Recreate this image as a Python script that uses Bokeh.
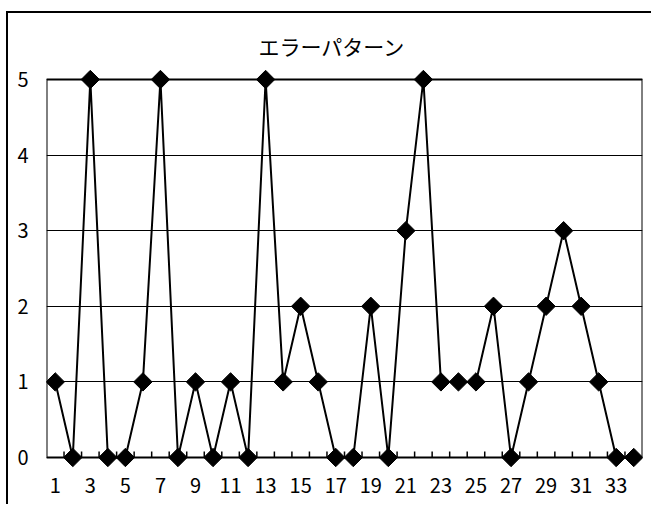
import numpy as np
from bokeh.plotting import figure
from bokeh.models import Range1d, FixedTicker
from bokeh.embed import file_html
from bokeh.resources import INLINE

# ---- data ----
categories = list(range(1, 35))
errors = [1, 0, 5, 0, 0, 1, 5, 0, 1, 0, 1, 0, 5, 1, 2, 1, 0, 0, 2, 0,
          3, 5, 1, 1, 1, 2, 0, 1, 2, 3, 2, 1, 0, 0]
x_tick_labels = [c for c in categories if c % 2 == 1]
y_ticks = [0, 1, 2, 3, 4, 5]
title_text = "エラーパターン"

FONT = "Noto Sans CJK JP"

# layout geometry (pixels)
plot_h_px = 378.0                      # height of value range 0..5
px_per_unit = plot_h_px / (y_ticks[-1] - y_ticks[0])
pad = 10.0 / px_per_unit               # room so markers on 0 / 5 are not clipped

p = figure(width=645, height=493, output_backend="svg", toolbar_location=None,
           x_range=Range1d(categories[0] - 0.5, categories[-1] + 0.5),
           y_range=Range1d(y_ticks[0] - pad, y_ticks[-1] + pad),
           min_border_left=38, min_border_right=11,
           min_border_top=56, min_border_bottom=39)
p.styles = {"border-left": "2px solid #000", "border-top": "2px solid #000",
            "margin-left": "6px", "margin-top": "11px"}
p.outline_line_color = None
p.background_fill_color = "white"
p.border_fill_color = "white"

# title
p.title.text = title_text
p.title.align = "left"
p.title.offset = 212
p.title.standoff = 18
p.title.text_font = FONT
p.title.text_font_size = "21px"
p.title.text_font_style = "normal"
p.title.text_color = "black"

# grid
p.xgrid.visible = False
p.ygrid.ticker = FixedTicker(ticks=y_ticks)
p.ygrid.grid_line_color = "black"
p.ygrid.grid_line_width = 1

# y axis
p.yaxis.ticker = FixedTicker(ticks=y_ticks)
p.yaxis.axis_line_color = None
p.yaxis.major_tick_in = 0
p.yaxis.major_tick_out = 0
p.yaxis.minor_tick_line_color = None
p.yaxis.major_label_standoff = 18
p.yaxis.major_label_text_font = FONT
p.yaxis.major_label_text_font_size = "20px"
p.yaxis.major_label_text_color = "black"

# x axis
p.xaxis.ticker = FixedTicker(ticks=x_tick_labels)
p.xaxis.axis_line_color = None
p.xaxis.major_tick_in = 0
p.xaxis.major_tick_out = 0
p.xaxis.minor_tick_line_color = None
p.xaxis.major_label_standoff = 10
p.xaxis.major_label_text_font = FONT
p.xaxis.major_label_text_font_size = "20px"
p.xaxis.major_label_text_color = "black"

# plot area box (axes lines + border)
p.quad(left=[categories[0] - 0.5], right=[categories[-1] + 0.5],
       bottom=[y_ticks[0]], top=[y_ticks[-1]],
       fill_color=None, line_color="black", line_width=2)

# inward category tick marks on x axis
bounds = [c + 0.5 for c in categories[:-1]]
tick_len = 6.0 / px_per_unit
p.segment(x0=bounds, x1=bounds, y0=[y_ticks[0]] * len(bounds),
          y1=[y_ticks[0] + tick_len] * len(bounds), line_color="black", line_width=1.5)

# series
p.line(categories, errors, line_color="black", line_width=2)
p.scatter(categories, errors, marker="square", angle=np.pi / 4, size=13,
          fill_color="black", line_color="black", line_width=1)

open("out.html", "w").write(file_html(p, INLINE))
